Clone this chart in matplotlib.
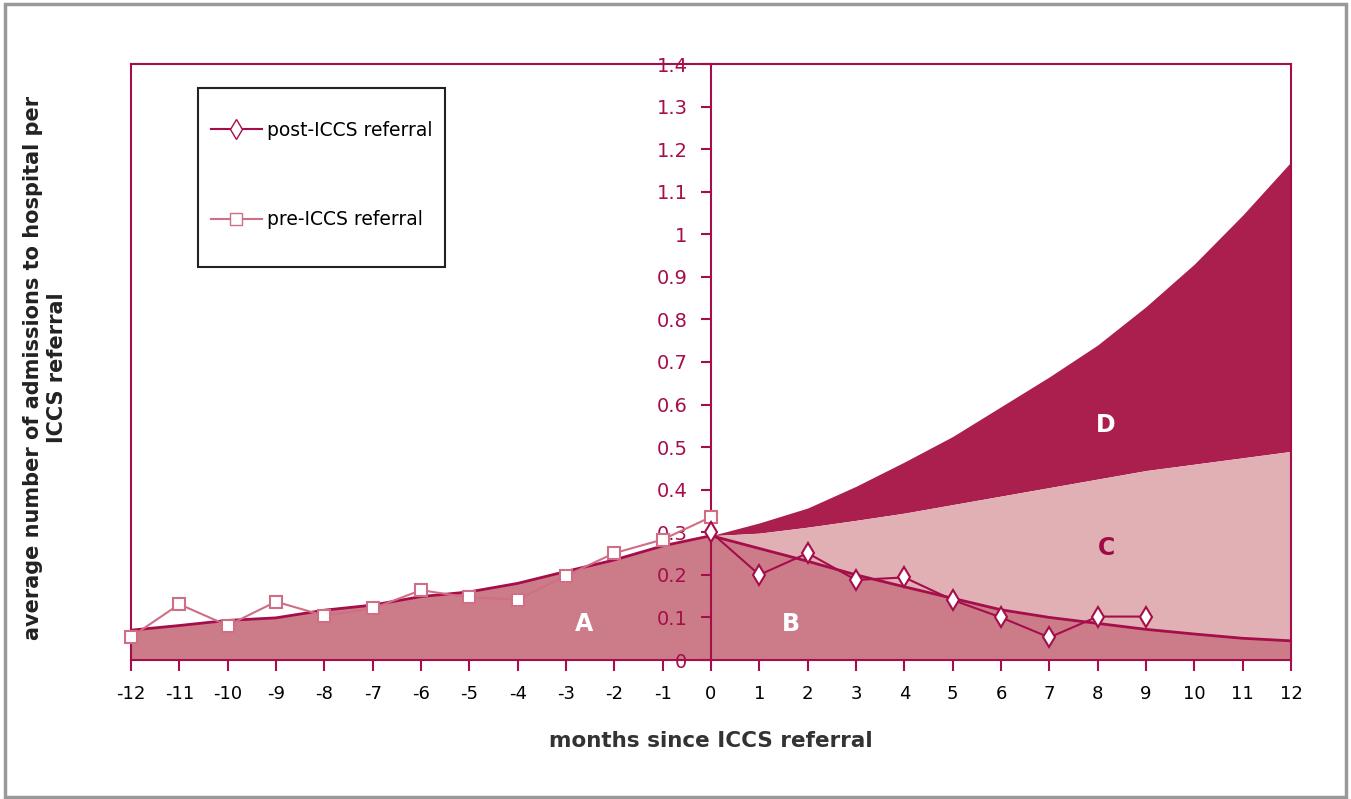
import matplotlib
matplotlib.use("Agg")
import matplotlib.pyplot as plt
from matplotlib.lines import Line2D
from matplotlib.patches import Rectangle

# months since referral
pre_months = [-12, -11, -10, -9, -8, -7, -6, -5, -4, -3, -2, -1, 0]
post_months = [0, 1, 2, 3, 4, 5, 6, 7, 8, 9, 10, 11, 12]

# observed averages
pre_obs = [0.054, 0.131, 0.081, 0.137, 0.104, 0.121, 0.164, 0.147, 0.142, 0.198, 0.251, 0.283, 0.336]
post_obs_months = [0, 1, 2, 3, 4, 5, 6, 7, 8, 9]
post_obs = [0.30, 0.200, 0.251, 0.188, 0.194, 0.141, 0.100, 0.053, 0.102, 0.102]

# fitted curves (area boundaries)
fit_a = [0.070, 0.081, 0.093, 0.099, 0.117, 0.129, 0.149, 0.160, 0.180, 0.208, 0.235, 0.268, 0.292]
fit_b = [0.292, 0.262, 0.232, 0.200, 0.172, 0.145, 0.118, 0.100, 0.086, 0.072, 0.061, 0.051, 0.045]
fit_c = [0.292, 0.298, 0.312, 0.328, 0.345, 0.365, 0.385, 0.405, 0.425, 0.445, 0.460, 0.475, 0.490]
fit_d = [0.292, 0.322, 0.357, 0.408, 0.465, 0.525, 0.595, 0.665, 0.740, 0.830, 0.930, 1.045, 1.170]

y_ticks = [0, 0.1, 0.2, 0.3, 0.4, 0.5, 0.6, 0.7, 0.8, 0.9, 1, 1.1, 1.2, 1.3, 1.4]
y_tick_labels = ["0", "0.1", "0.2", "0.3", "0.4", "0.5", "0.6", "0.7", "0.8", "0.9",
                 "1", "1.1", "1.2", "1.3", "1.4"]

CRIMSON = "#a50d4b"
DARK = "#ab1f4f"
LIGHT = "#e0b0b5"
MID = "#cc7c89"
PRE_LINE = "#cf6e84"

fig = plt.figure(figsize=(13.51, 7.99), dpi=100)
ax = fig.add_axes([131 / 1351, 1 - 660 / 799, 1160 / 1351, 596 / 799])

# areas
ax.fill_between(post_months, fit_c, fit_d, color=DARK, lw=0)
ax.fill_between(post_months, fit_b, fit_c, color=LIGHT, lw=0)
ax.fill_between(post_months, 0, fit_b, color=MID, lw=0)
ax.fill_between(pre_months, 0, fit_a, color=MID, lw=0)
ax.plot(pre_months, fit_a, color=CRIMSON, lw=2)
ax.plot(post_months, fit_b, color=CRIMSON, lw=2)

# observed series
ax.plot(pre_months, pre_obs, color=PRE_LINE, lw=1.5, marker="s", ms=8,
        mfc="white", mec=PRE_LINE, mew=1.5, clip_on=False, zorder=5)
ax.plot(post_obs_months, post_obs, color=CRIMSON, lw=1.5, marker="d", ms=10,
        mfc="white", mec=CRIMSON, mew=1.5, clip_on=False, zorder=6)

ax.set_xlim(-12, 12)
ax.set_ylim(0, 1.4)

for s in ["top", "right", "bottom"]:
    ax.spines[s].set_color(CRIMSON)
    ax.spines[s].set_linewidth(1.5)
ax.spines["left"].set_position(("data", 0))
ax.spines["left"].set_color(CRIMSON)
ax.spines["left"].set_linewidth(1.5)
ax.axvline(-12, color=CRIMSON, lw=1.5, clip_on=False)

ax.set_xticks(pre_months[:-1] + post_months)
ax.set_xticklabels([str(m) for m in pre_months[:-1] + post_months])
ax.set_yticks(y_ticks)
ax.set_yticklabels(y_tick_labels)
ax.tick_params(axis="x", direction="out", length=8, width=1.5, color=CRIMSON,
               labelcolor="black", labelsize=13, pad=10)
ax.tick_params(axis="y", direction="out", length=7, width=1.5, color=CRIMSON,
               labelcolor=CRIMSON, labelsize=14, pad=10)

ax.set_xlabel("months since ICCS referral", fontsize=15.5, fontweight="bold",
              color="#333333", labelpad=20)
fig.text(45 / 1351, 1 - 368 / 799, "average number of admissions to hospital per\nICCS referral",
         rotation=90, ha="center", va="center", fontsize=15, fontweight="bold",
         color="#222222", linespacing=1.2)

# region letters
ax.text(-2.63, 0.085, "A", color="white", fontsize=17, fontweight="bold", ha="center", va="center")
ax.text(1.66, 0.085, "B", color="white", fontsize=17, fontweight="bold", ha="center", va="center")
ax.text(8.19, 0.264, "C", color="#9e0b44", fontsize=17, fontweight="bold", ha="center", va="center")
ax.text(8.17, 0.553, "D", color="white", fontsize=17, fontweight="bold", ha="center", va="center")

handles = [
    Line2D([], [], color=CRIMSON, lw=1.5, marker="d", ms=10, mfc="white", mec=CRIMSON),
    Line2D([], [], color=PRE_LINE, lw=1.5, marker="s", ms=8, mfc="white", mec=PRE_LINE),
]
leg = fig.legend(handles, ["post-ICCS referral", "pre-ICCS referral"],
                 loc="upper left", bbox_to_anchor=(211 / 1351, 1 - 121 / 799),
                 fontsize=13.5, frameon=False, labelspacing=3.75,
                 borderpad=0, handlelength=2.7, handletextpad=0.3, borderaxespad=0)

# legend box
fig.patches.append(Rectangle((198 / 1351, 1 - 267 / 799), 247 / 1351, 179 / 799,
                             transform=fig.transFigure, fill=False,
                             edgecolor="#222222", lw=1.5))

# outer frame
fig.patches.append(Rectangle((5 / 1351, 2 / 799), 1341 / 1351, 793 / 799,
                             transform=fig.transFigure, fill=False,
                             edgecolor="#999999", lw=2.5))

fig.savefig("out.png", dpi=100)
